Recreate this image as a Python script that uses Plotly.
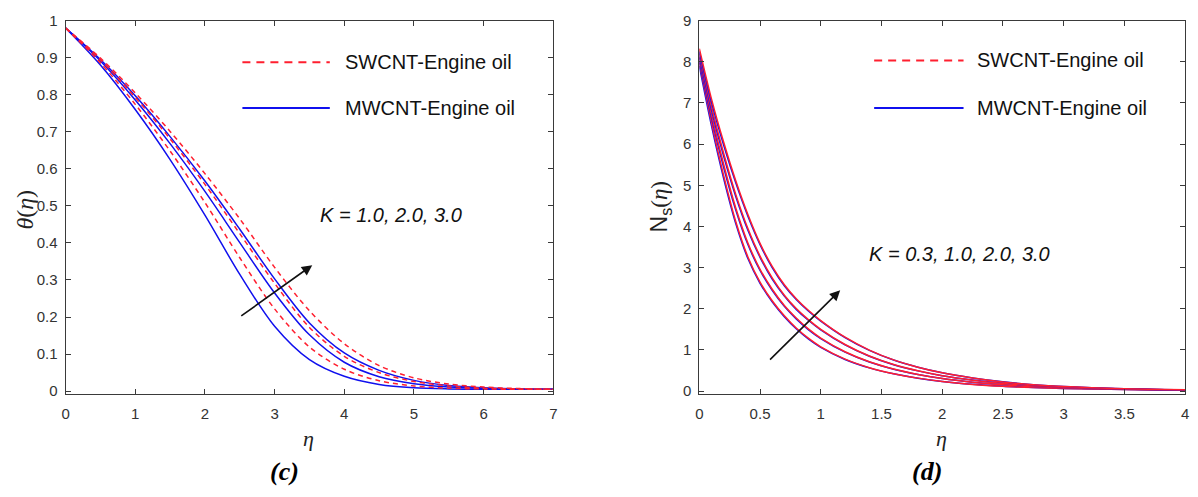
import plotly.graph_objects as go

# ---------------- panel (c): temperature profiles theta(eta) ----------------
eta_c = [0, 0.5, 1, 1.5, 2, 2.5, 3, 3.5, 4, 4.5, 5, 5.5, 6, 6.5, 7]
theta_mw_k1 = [0.980, 0.880, 0.760, 0.625, 0.475, 0.315, 0.175, 0.085, 0.040, 0.018, 0.009, 0.006, 0.005, 0.005, 0.005]
theta_sw_k1 = [0.980, 0.886, 0.774, 0.648, 0.509, 0.360, 0.222, 0.119, 0.059, 0.028, 0.014, 0.008, 0.006, 0.005, 0.005]
theta_mw_k2 = [0.980, 0.891, 0.786, 0.668, 0.539, 0.401, 0.265, 0.152, 0.078, 0.039, 0.020, 0.011, 0.007, 0.005, 0.005]
theta_sw_k2 = [0.980, 0.894, 0.793, 0.681, 0.558, 0.425, 0.291, 0.172, 0.094, 0.050, 0.026, 0.014, 0.008, 0.006, 0.005]
theta_mw_k3 = [0.980, 0.895, 0.797, 0.687, 0.567, 0.437, 0.303, 0.184, 0.103, 0.056, 0.029, 0.015, 0.009, 0.006, 0.005]
theta_sw_k3 = [0.980, 0.899, 0.805, 0.701, 0.587, 0.465, 0.334, 0.217, 0.128, 0.069, 0.036, 0.019, 0.011, 0.007, 0.005]

# ---------------- panel (d): entropy generation Ns(eta) ----------------
eta_d = [0, 0.1, 0.2, 0.3, 0.4, 0.5, 0.6, 0.7, 0.8, 0.9, 1.0, 1.2, 1.4, 1.6, 1.8,
         2.0, 2.25, 2.5, 2.75, 3.0, 3.5, 4.0]
ns_mw_k03 = [7.90, 6.45, 5.17, 4.07, 3.22, 2.62, 2.17, 1.81, 1.51, 1.265, 1.065, 0.770, 0.565, 0.420, 0.315,
             0.235, 0.165, 0.118, 0.088, 0.066, 0.040, 0.025]
ns_sw_k03 = [7.98, 6.53, 5.24, 4.12, 3.26, 2.65, 2.195, 1.83, 1.527, 1.28, 1.077, 0.778, 0.570, 0.423, 0.316,
             0.235, 0.164, 0.117, 0.087, 0.065, 0.039, 0.025]
ns_mw_k1 = [8.02, 6.64, 5.44, 4.40, 3.56, 2.93, 2.45, 2.06, 1.75, 1.49, 1.277, 0.947, 0.707, 0.532, 0.403,
            0.305, 0.217, 0.154, 0.111, 0.081, 0.046, 0.028]
ns_sw_k1 = [8.10, 6.72, 5.51, 4.45, 3.60, 2.96, 2.475, 2.08, 1.77, 1.505, 1.290, 0.956, 0.713, 0.536, 0.405,
            0.305, 0.216, 0.153, 0.110, 0.080, 0.045, 0.028]
ns_mw_k2 = [8.13, 6.83, 5.71, 4.73, 3.91, 3.25, 2.72, 2.31, 1.98, 1.715, 1.488, 1.123, 0.848, 0.643, 0.492,
            0.375, 0.268, 0.189, 0.135, 0.097, 0.053, 0.031]
ns_sw_k2 = [8.20, 6.91, 5.78, 4.78, 3.95, 3.28, 2.75, 2.33, 2.00, 1.732, 1.502, 1.133, 0.855, 0.647, 0.494,
            0.375, 0.267, 0.188, 0.134, 0.096, 0.052, 0.031]
ns_mw_k3 = [8.25, 7.02, 5.98, 5.06, 4.25, 3.56, 3.00, 2.56, 2.22, 1.94, 1.700, 1.300, 0.990, 0.755, 0.580,
            0.445, 0.320, 0.225, 0.158, 0.112, 0.059, 0.034]
ns_sw_k3 = [8.32, 7.10, 6.05, 5.11, 4.29, 3.59, 3.03, 2.585, 2.24, 1.958, 1.715, 1.310, 0.997, 0.759, 0.582,
            0.445, 0.319, 0.224, 0.157, 0.111, 0.058, 0.034]

legend_labels = ["SWCNT-Engine oil", "MWCNT-Engine oil"]
k_label_c = "K = 1.0, 2.0, 3.0"
k_label_d = "K = 0.3, 1.0, 2.0, 3.0"

BLUE = "#1010ee"
RED = "#ff1f2f"
AXIS = "#3a3a3a"
SANS = "Liberation Sans, Arial, sans-serif"
SERIF = "Liberation Serif, Times New Roman, serif"

W, H = 1198, 497


def px(x):
    return x / W


def py(y):
    return 1 - y / H


fig = go.Figure()

# panel (c) curves: MWCNT solid blue first, SWCNT dashed red on top
for ys in (theta_mw_k1, theta_mw_k2, theta_mw_k3):
    fig.add_trace(go.Scatter(x=eta_c, y=ys, mode="lines", xaxis="x", yaxis="y",
                             line=dict(color=BLUE, width=1.5, shape="spline", smoothing=0.9),
                             showlegend=False, hoverinfo="skip"))
for ys in (theta_sw_k1, theta_sw_k2, theta_sw_k3):
    fig.add_trace(go.Scatter(x=eta_c, y=ys, mode="lines", xaxis="x", yaxis="y",
                             line=dict(color=RED, width=1.5, dash="5px,4px", shape="spline", smoothing=0.9),
                             showlegend=False, hoverinfo="skip"))

# panel (d) curves: each MWCNT curve followed by its SWCNT partner
for mw, sw in ((ns_mw_k03, ns_sw_k03), (ns_mw_k1, ns_sw_k1), (ns_mw_k2, ns_sw_k2), (ns_mw_k3, ns_sw_k3)):
    fig.add_trace(go.Scatter(x=eta_d, y=mw, mode="lines", xaxis="x2", yaxis="y2",
                             line=dict(color=BLUE, width=1.5, shape="spline", smoothing=0.9),
                             showlegend=False, hoverinfo="skip"))
    fig.add_trace(go.Scatter(x=eta_d, y=sw, mode="lines", xaxis="x2", yaxis="y2",
                             line=dict(color=RED, width=1.5, shape="spline", smoothing=0.9),
                             showlegend=False, hoverinfo="skip"))

axis_common = dict(showline=True, linecolor=AXIS, linewidth=1, mirror="ticks",
                   ticks="inside", ticklen=5, tickwidth=1, tickcolor=AXIS,
                   showgrid=False, zeroline=False,
                   tickfont=dict(family=SANS, size=15, color="#333333"))

y_top, y_bot = 12, 396.7
fig.update_layout(
    width=W, height=H,
    margin=dict(l=0, r=0, t=0, b=0),
    paper_bgcolor="white", plot_bgcolor="white",
    xaxis=dict(domain=[px(62), px(553)], range=[0, 7], dtick=1, anchor="y",
               ticklabelstandoff=6, **axis_common),
    yaxis=dict(domain=[py(y_bot), py(y_top)], range=[-0.007, 1], dtick=0.1, anchor="x",
               ticklabelstandoff=4, **axis_common),
    xaxis2=dict(domain=[px(700), px(1189)], range=[0, 4], dtick=0.5, anchor="y2",
                ticklabelstandoff=6, **axis_common),
    yaxis2=dict(domain=[py(y_bot), py(y_top)], range=[-0.063, 9], dtick=1, anchor="x2",
                ticklabelstandoff=4, **axis_common),
)

annotations = []
shapes = []

# legends drawn inside each panel
for (x0, x1, xt, y1, y2) in ((240, 328, 341, 55, 102), (876, 966, 978, 53, 102)):
    shapes.append(dict(type="line", xref="paper", yref="paper", x0=px(x0), x1=px(x1), y0=py(y1), y1=py(y1),
                       line=dict(color=RED, width=2, dash="8px,6px")))
    shapes.append(dict(type="line", xref="paper", yref="paper", x0=px(x0), x1=px(x1), y0=py(y2), y1=py(y2),
                       line=dict(color=BLUE, width=2)))
    for txt, yy in zip(legend_labels, (y1, y2)):
        annotations.append(dict(text=txt, xref="paper", yref="paper", x=px(xt), y=py(yy),
                                xanchor="left", yanchor="middle", showarrow=False,
                                font=dict(family=SANS, size=20, color="#111111")))

# parameter labels
annotations.append(dict(text=f"<i>{k_label_c}</i>", xref="paper", yref="paper", x=px(316), y=py(212),
                        xanchor="left", yanchor="middle", showarrow=False,
                        font=dict(family=SANS, size=20, color="#111111")))
annotations.append(dict(text=f"<i>{k_label_d}</i>", xref="paper", yref="paper", x=px(869), y=py(253),
                        xanchor="left", yanchor="middle", showarrow=False,
                        font=dict(family=SANS, size=20, color="#111111")))

# arrows showing the direction of increasing K
annotations.append(dict(x=3.54, y=0.34, ax=2.5, ay=0.2, xref="x", yref="y", axref="x", ayref="y",
                        text="", showarrow=True, arrowhead=2, arrowsize=1.3, arrowwidth=1.6,
                        arrowcolor="#111111"))
annotations.append(dict(x=1.16, y=2.45, ax=0.57, ay=0.73, xref="x2", yref="y2", axref="x2", ayref="y2",
                        text="", showarrow=True, arrowhead=2, arrowsize=1.3, arrowwidth=1.6,
                        arrowcolor="#111111"))

# axis titles
annotations.append(dict(text="<i>η</i>", xref="paper", yref="paper", x=px(307), y=py(443),
                        xanchor="center", yanchor="middle", showarrow=False,
                        font=dict(family=SERIF, size=22, color="#222222")))
annotations.append(dict(text="<i>η</i>", xref="paper", yref="paper", x=px(944), y=py(443),
                        xanchor="center", yanchor="middle", showarrow=False,
                        font=dict(family=SERIF, size=22, color="#222222")))
annotations.append(dict(text="<i>θ</i>(<i>η</i>)", xref="paper", yref="paper", x=px(21), y=py(207),
                        xanchor="center", yanchor="middle", showarrow=False, textangle=-90,
                        font=dict(family=SERIF, size=24, color="#222222")))
annotations.append(dict(text="N<sub>s</sub><span style=\"font-family:Liberation Serif\">(<i>η</i>)</span>",
                        xref="paper", yref="paper", x=px(661), y=py(204),
                        xanchor="center", yanchor="middle", showarrow=False, textangle=-90,
                        font=dict(family=SANS, size=23, color="#222222")))

# panel captions
annotations.append(dict(text="<b><i>(c)</i></b>", xref="paper", yref="paper", x=px(282), y=py(477),
                        xanchor="center", yanchor="middle", showarrow=False,
                        font=dict(family=SERIF, size=26, color="#000000")))
annotations.append(dict(text="<b><i>(d)</i></b>", xref="paper", yref="paper", x=px(929), y=py(477),
                        xanchor="center", yanchor="middle", showarrow=False,
                        font=dict(family=SERIF, size=26, color="#000000")))

fig.update_layout(annotations=annotations, shapes=shapes)

fig.write_html("out.html")
